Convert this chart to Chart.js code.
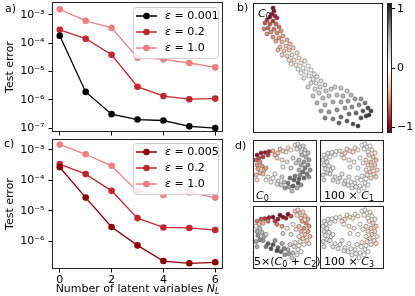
<!DOCTYPE html>
<html>
<head>
<meta charset="utf-8">
<script src="https://cdn.jsdelivr.net/npm/chart.js@4.4.0/dist/chart.umd.min.js"></script>
<style>
body { margin: 0; width: 415px; height: 296px; background: #fff; position: relative; overflow: hidden;
       font-family: "DejaVu Sans", sans-serif; font-size: 11px; color: #000; }
canvas { position: absolute; }
.lbl { position: absolute; white-space: nowrap; line-height: 11px; }
.lbl sub { font-size: 8px; vertical-align: -2px; line-height: 0; }
</style>
</head>
<body>
<canvas id="chartA" width="228" height="142" style="left:0;top:0"></canvas>
<canvas id="chartC" width="228" height="160" style="left:0;top:136px"></canvas>
<canvas id="chartB" width="132" height="132" style="left:252px;top:2px"></canvas>
<canvas id="colorbar" width="29" height="136" style="left:386px;top:0"></canvas>
<canvas id="d0" width="66" height="64" style="left:252px;top:139px"></canvas>
<canvas id="d1" width="66" height="64" style="left:319px;top:139px"></canvas>
<canvas id="d2" width="66" height="65" style="left:252px;top:205px"></canvas>
<canvas id="d3" width="66" height="65" style="left:319px;top:205px"></canvas>

<div class="lbl" style="left:5px;top:3px">a)</div>
<div class="lbl" style="left:237px;top:2px">b)</div>
<div class="lbl" style="left:4px;top:138px">c)</div>
<div class="lbl" style="left:235px;top:140px">d)</div>
<div class="lbl" style="left:258px;top:8px"><i>C</i><sub>0</sub></div>
<div class="lbl" style="left:256px;top:190px"><i>C</i><sub>0</sub></div>
<div class="lbl" style="left:324px;top:190px">100 × <i>C</i><sub>1</sub></div>
<div class="lbl" style="left:254px;top:256px">5×(<i>C</i><sub>0</sub> + <i>C</i><sub>2</sub>)</div>
<div class="lbl" style="left:324px;top:256px">100 × <i>C</i><sub>3</sub></div>
<div class="lbl" style="left:52px;width:171px;text-align:center;top:283px">Number of latent variables <i>N</i><sub><i>L</i></sub></div>

<script>
// ---- data ----
const latentVars = [0, 1, 2, 3, 4, 5, 6];

const epsA = ['0.001', '0.2', '1.0'];
const errA_0001 = [1.85e-4, 1.9e-6, 3.1e-7, 2.0e-7, 1.85e-7, 1.15e-7, 1.0e-7];
const errA_02   = [3.0e-4, 1.45e-4, 3.9e-5, 2.9e-6, 1.35e-6, 1.05e-6, 1.1e-6];
const errA_10   = [1.6e-3, 6.2e-4, 3.5e-4, 3.1e-5, 2.7e-5, 2.0e-5, 1.4e-5];

const epsC = ['0.005', '0.2', '1.0'];
const errC_0005 = [2.7e-4, 2.7e-5, 2.9e-6, 7.2e-7, 2.2e-7, 1.85e-7, 2.0e-7];
const errC_02   = [3.4e-4, 1.6e-4, 4.5e-5, 5.7e-6, 2.8e-6, 2.7e-6, 2.3e-6];
const errC_10   = [1.5e-3, 7.2e-4, 3.0e-4, 4.3e-5, 3.3e-5, 4.0e-5, 2.7e-5];

const decades = [-7, -6, -5, -4, -3];
const xTicks = [0, 2, 4, 6];
const cbTicks = [-1, 0, 1];

// panel b: embedding coords [x, y(down), C0 value]
const bPoints = [
  [20,5,-1.05],[21,8,-1.0],[19,11,-0.95],[22,13,-0.9],[17,14,-0.9],[24,15,-0.85],[14,17,-0.8],[20,18,-0.8],
  [12,20,-0.7],[17,21,-0.7],[23,21,-0.65],[15,25,-0.65],[21,26,-0.6],[26,24,-0.6],[11,26,-0.6],[18,29,-0.55],
  [24,30,-0.55],[14,31,-0.55],[28,28,-0.5],[20,34,-0.5],[26,35,-0.5],
  [30,33,-0.45],[23,38,-0.45],[29,39,-0.4],[34,37,-0.4],[27,44,-0.35],[33,43,-0.35],[37,41,-0.35],[25,47,-0.35],
  [31,48,-0.3],[36,47,-0.3],[40,45,-0.3],
  [29,52,-0.25],[34,53,-0.25],[39,52,-0.2],[44,50,-0.2],[36,57,-0.2],[41,57,-0.15],[46,55,-0.15],[38,61,-0.15],
  [43,62,-0.1],[48,60,-0.1],[52,58,-0.1],
  [45,66,-0.05],[50,65,0],[55,63,0],[48,70,0.05],[53,69,0.05],[58,67,0.05],[56,73,0.1],[61,71,0.1],[51,75,0.1],
  [60,76,0.15],[64,74,0.15],[58,80,0.2],[63,80,0.2],[68,78,0.2],[55,84,0.25],[62,86,0.25],[67,84,0.25],
  [72,82,0.3],[66,90,0.3],[73,88,0.3],[78,86,0.3],[82,84,0.3],[88,85,0.35],[94,88,0.35],
  [60,93,0.35],[70,95,0.4],[76,93,0.4],[84,92,0.4],[90,93,0.45],[98,92,0.45],[64,100,0.45],[72,102,0.5],
  [80,99,0.5],[88,99,0.5],[95,98,0.55],[102,96,0.55],[108,96,0.6],[68,108,0.55],[76,109,0.6],[84,107,0.6],
  [92,105,0.6],[99,104,0.65],[106,102,0.65],[112,100,0.7],
  [72,115,0.7],[80,116,0.7],[88,114,0.75],[96,111,0.75],[103,110,0.8],[110,108,0.85],[115,105,0.9],
  [118,108,0.95],[86,120,0.8],[94,118,0.85],[108,115,0.9],[113,113,0.95],[100,121,0.9],[105,123,1.0],[116,112,1.0]
];

// panel d: shared ring embedding [x, y(down)]
const dPos = [
  [4,15],[8,13],[12,12.5],[16,11.5],[15,15],[6,18],[10,17],[3,20],
  [7,22],[4,25],[9,26],[5,29],[11,30],[7,33],[3,35],[10,34],[13,28],[4,40],
  [20,11],[22,15],[25,13],[27,9],[30,11],[33,12],[35,8],[24,18],[29,20],[38,10],
  [42,5],[45,4],[47,7],[50,6],[52,10],[48,12],[44,9],[55,13],
  [49,15],[53,17],[56,20],[46,20],[51,22],[55,25],[48,25],[52,28],[57,30],[46,30],[50,32],[54,34],[47,35],[51,38],[56,37],[43,23],
  [37,38],[41,40],[45,43],[40,46],[35,43],[32,48],[44,48],[39,51],[48,45],[42,36],[36,47],[46,39],
  [15,37],[20,38],[25,41],[29,37],[24,44],[18,42],[28,45],[13,40],[22,34],[31,42],
  [34,22],[38,28],[30,27],[40,18]
];
const dC0 = [
  -1.0,-0.95,-0.9,-0.85,-0.8,-0.75,-0.8,-0.7,
  -0.55,-0.5,-0.5,-0.45,-0.4,-0.4,-0.35,-0.35,-0.45,-0.2,
  -0.4,-0.35,-0.3,-0.3,-0.25,-0.2,-0.15,-0.3,-0.2,-0.05,
  0.15,0.2,0.25,0.3,0.35,0.25,0.2,0.4,
  0.45,0.5,0.55,0.45,0.6,0.65,0.55,0.7,0.6,0.5,0.75,0.7,0.65,0.8,0.6,0.35,
  0.75,0.8,0.85,0.8,0.7,0.6,0.5,0.4,0.6,0.7,0.55,0.8,
  0.05,0.1,0.15,0.3,0.2,0.1,0.35,0.0,0.1,0.4,
  0.2,0.3,0.15,0.25
];
const dC1x100 = [
  0.1,0.15,0.1,0.05,0.1,0.15,0.1,0.2,
  0.2,0.25,0.2,0.25,0.2,0.25,0.3,0.2,0.15,0.25,
  -0.15,-0.2,-0.25,-0.2,-0.25,-0.2,-0.15,-0.1,-0.1,-0.1,
  0.0,0.05,-0.05,0.0,-0.1,-0.05,0.05,-0.15,
  -0.25,-0.3,-0.35,-0.2,-0.35,-0.3,-0.3,-0.35,-0.25,-0.15,-0.3,-0.25,-0.2,-0.2,-0.25,-0.1,
  0.1,0.05,0.0,0.1,0.15,0.2,0.0,0.1,-0.05,0.05,0.15,0.0,
  0.2,0.25,0.2,0.15,0.25,0.2,0.2,0.25,0.15,0.15,
  0.1,0.05,0.15,0.0
];
const dC0C2x5 = [
  -0.6,-0.7,-0.8,-0.9,-0.6,-0.3,-0.4,0.1,
  0.4,0.5,0.45,0.6,0.5,0.65,0.55,0.6,0.3,0.5,
  -1.0,-0.8,-0.95,-1.05,-1.0,-0.9,-1.0,-0.6,-0.5,-0.7,
  -0.3,-0.2,-0.3,-0.25,-0.35,-0.3,-0.15,-0.4,
  -0.45,-0.55,-0.5,-0.35,-0.5,-0.45,-0.4,-0.35,-0.4,-0.2,-0.3,-0.25,-0.15,-0.1,-0.2,-0.2,
  0.3,0.2,0.1,0.4,0.5,0.6,0.1,0.3,0.0,0.15,0.55,0.05,
  0.8,0.85,0.75,0.5,0.9,0.85,0.8,0.7,0.6,0.65,
  0.1,0.2,0.3,-0.1
];
const dC3x100 = [
  0.15,0.1,0.1,0.05,0.1,0.15,0.1,0.2,
  0.2,0.25,0.2,0.2,0.15,0.25,0.25,0.2,0.15,0.2,
  -0.1,-0.15,-0.2,-0.15,-0.2,-0.15,-0.1,-0.05,-0.05,-0.1,
  0.0,0.05,0.0,-0.05,-0.1,0.0,0.05,-0.1,
  -0.2,-0.25,-0.3,-0.15,-0.3,-0.25,-0.2,-0.3,-0.2,-0.1,-0.25,-0.2,-0.15,-0.15,-0.2,-0.05,
  0.1,0.05,0.05,0.1,0.1,0.15,0.0,0.05,0.0,0.05,0.1,0.0,
  0.15,0.2,0.15,0.1,0.2,0.15,0.2,0.2,0.1,0.1,
  0.05,0.0,0.1,0.0
];

// ---- helpers ----
const FONT = { family: 'DejaVu Sans', size: 11 };
const RDGY = ['#67001f','#b2182b','#d6604d','#f4a582','#fddbc7','#ffffff','#e0e0e0','#bababa','#878787','#4d4d4d','#1a1a1a'];
const VMIN = -1.1, VMAX = 1.1;
function hexRgb(c) { return [1, 3, 5].map(i => parseInt(c.slice(i, i + 2), 16)); }
function cmap(v) {
  let t = (v - VMIN) / (VMAX - VMIN);
  t = Math.max(0, Math.min(1, t));
  const f = t * 10, i = Math.min(9, Math.floor(f)), r = f - i;
  const a = hexRgb(RDGY[i]), b = hexRgb(RDGY[i + 1]);
  return 'rgb(' + a.map((x, k) => Math.round(x + (b[k] - x) * r)).join(',') + ')';
}
const SUP = { '-': '⁻', '0': '⁰', '1': '¹', '2': '²', '3': '³', '4': '⁴', '5': '⁵', '6': '⁶', '7': '⁷', '8': '⁸', '9': '⁹' };
const sup = n => String(n).split('').map(ch => SUP[ch]).join('');

const frame = {
  id: 'frame',
  afterDraw(chart) {
    const a = chart.chartArea, ctx = chart.ctx;
    ctx.save();
    ctx.strokeStyle = '#222';
    ctx.lineWidth = 1;
    ctx.strokeRect(Math.round(a.left) + 0.5, Math.round(a.top) + 0.5,
                   Math.round(a.right - a.left) - 1, Math.round(a.bottom - a.top) - 1);
    ctx.restore();
  }
};

const epsLegend = {
  id: 'epsLegend',
  afterDraw(chart, args, o) {
    const ctx = chart.ctx;
    ctx.save();
    ctx.beginPath();
    ctx.roundRect(o.left + 0.5, o.top + 0.5, o.width, o.height, 3);
    ctx.fillStyle = 'rgba(255,255,255,0.85)';
    ctx.fill();
    ctx.strokeStyle = '#d0d0d0';
    ctx.lineWidth = 1;
    ctx.stroke();
    ctx.textBaseline = 'middle';
    chart.data.datasets.forEach((d, i) => {
      const y = o.top + o.first + i * o.step;
      ctx.strokeStyle = d.borderColor;
      ctx.lineWidth = 1.5;
      ctx.beginPath();
      ctx.moveTo(o.left + 3, y);
      ctx.lineTo(o.left + 24, y);
      ctx.stroke();
      ctx.fillStyle = d.borderColor;
      ctx.beginPath();
      ctx.arc(o.left + 13.5, y, 3.3, 0, Math.PI * 2);
      ctx.fill();
      ctx.fillStyle = '#000';
      ctx.font = 'italic 11px "DejaVu Sans"';
      ctx.fillText('ε', o.left + 32, y);
      const w = ctx.measureText('ε').width;
      ctx.font = '11px "DejaVu Sans"';
      ctx.fillText(' = ' + d.label, o.left + 32 + w, y);
    });
    ctx.restore();
  }
};

const colorGradient = {
  id: 'colorGradient',
  beforeDraw(chart) {
    const a = chart.chartArea, ctx = chart.ctx;
    const g = ctx.createLinearGradient(0, a.bottom, 0, a.top);
    RDGY.forEach((c, i) => g.addColorStop(i / 10, c));
    ctx.save();
    ctx.fillStyle = g;
    ctx.fillRect(a.left, a.top, a.right - a.left, a.bottom - a.top);
    ctx.restore();
  }
};

function errorChart(id, eps, series, colors, yMinExp, yMaxExp, showXLabels, pad, xHeight) {
  new Chart(document.getElementById(id), {
    type: 'line',
    data: {
      datasets: series.map((s, k) => ({
        label: eps[k],
        data: latentVars.map((x, i) => ({ x: x, y: s[i] })),
        borderColor: colors[k],
        backgroundColor: colors[k],
        pointBackgroundColor: colors[k],
        borderWidth: 1.3,
        pointRadius: 3.3,
        pointBorderWidth: 0,
        tension: 0
      }))
    },
    options: {
      responsive: false,
      animation: false,
      events: [],
      layout: { padding: pad, autoPadding: false },
      plugins: {
        legend: { display: false },
        tooltip: { enabled: false },
        epsLegend: { left: 133, top: 7, width: 85, height: 51, first: 9, step: 16 }
      },
      scales: {
        x: {
          type: 'linear', min: -0.3, max: 6.3,
          afterBuildTicks: s => { s.ticks = xTicks.map(v => ({ value: v })); },
          ticks: { display: showXLabels, font: FONT, color: '#000', padding: 1, maxRotation: 0 },
          grid: { drawOnChartArea: false, tickLength: 3.5, color: '#000' },
          border: { display: false },
          afterFit: s => { s.height = xHeight; s.paddingLeft = 0; s.paddingRight = 0; }
        },
        y: {
          type: 'logarithmic', min: Math.pow(10, yMinExp), max: Math.pow(10, yMaxExp),
          afterBuildTicks: s => {
            s.ticks = decades.filter(e => e >= yMinExp && e <= yMaxExp).map(e => ({ value: Math.pow(10, e) }));
          },
          ticks: { font: FONT, color: '#000', padding: 4, callback: v => '10' + sup(Math.round(Math.log10(v))) },
          grid: { drawOnChartArea: false, tickLength: 3.5, color: '#000' },
          border: { display: false },
          title: { display: true, text: 'Test error', font: FONT, color: '#000', padding: { top: 4, bottom: 0 } },
          afterFit: s => { s.width = 52; s.paddingTop = 0; s.paddingBottom = 0; }
        }
      }
    },
    plugins: [frame, epsLegend]
  });
}

errorChart('chartA', epsA, [errA_0001, errA_02, errA_10], ['#000000', '#c0282d', '#f08080'],
           -7.14, -2.54, false, { top: 2, right: 5 }, 10);
errorChart('chartC', epsC, [errC_0005, errC_02, errC_10], ['#8b0000', '#c0282d', '#f08080'],
           -6.92, -2.64, true, { top: 3, right: 5 }, 27);

function scatterChart(id, pts, values, xMax, yMax) {
  new Chart(document.getElementById(id), {
    type: 'scatter',
    data: {
      datasets: [{
        data: pts.map((p, i) => ({ x: p[0], y: p[1], v: values[i] })),
        backgroundColor: c => (c.raw ? cmap(c.raw.v) : '#fff'),
        borderColor: '#4a4a4a',
        borderWidth: 0.5,
        pointRadius: 2.1
      }]
    },
    options: {
      responsive: false,
      animation: false,
      events: [],
      layout: { padding: 1, autoPadding: false },
      plugins: { legend: { display: false }, tooltip: { enabled: false } },
      scales: {
        x: { display: false, min: 0, max: xMax },
        y: { display: false, min: 0, max: yMax, reverse: true }
      }
    },
    plugins: [frame]
  });
}

scatterChart('chartB', bPoints, bPoints.map(p => p[2]), 130, 130);
scatterChart('d0', dPos, dC0, 64, 62);
scatterChart('d1', dPos, dC1x100, 64, 62);
scatterChart('d2', dPos, dC0C2x5, 64, 62);
scatterChart('d3', dPos, dC3x100, 64, 62);

new Chart(document.getElementById('colorbar'), {
  type: 'scatter',
  data: { datasets: [] },
  options: {
    responsive: false,
    animation: false,
    events: [],
    layout: { padding: { top: 3, bottom: 3, left: 1 }, autoPadding: false },
    plugins: { legend: { display: false }, tooltip: { enabled: false } },
    scales: {
      x: { display: false, min: 0, max: 1 },
      y: {
        position: 'right', min: VMIN, max: VMAX,
        afterBuildTicks: s => { s.ticks = cbTicks.map(v => ({ value: v })); },
        ticks: { font: FONT, color: '#000', padding: 2, callback: v => (v < 0 ? '−' + Math.abs(v) : String(v)) },
        grid: { drawOnChartArea: false, tickLength: 3, color: '#000' },
        border: { display: false },
        afterFit: s => { s.width = 23; s.paddingTop = 0; s.paddingBottom = 0; }
      }
    }
  },
  plugins: [colorGradient, frame]
});
</script>
</body>
</html>
